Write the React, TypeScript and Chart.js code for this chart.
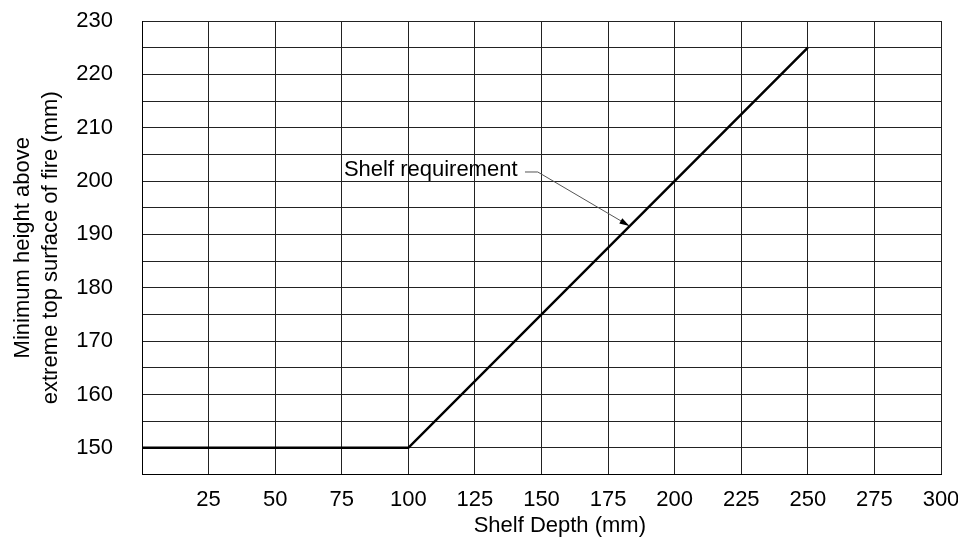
import React, { useEffect, useRef } from "react";
import { Chart, registerables } from "chart.js";

Chart.register(...registerables);

const depths = [0, 100, 250];
const heights = [150, 150, 225];
const xTickLabels = ["", "25", "50", "75", "100", "125", "150", "175", "200", "225", "250", "275", "300"];
const labelText = "Shelf requirement";
const labelAnchor = { x: 75.8, y: 202.1 };
const leaderStart = { x: 143.8, y: 201.7 };
const leaderBend = { x: 148.6, y: 201.7 };
const leaderTip = { x: 183, y: 191.6 };

const FONT = "'Liberation Sans', Arial, sans-serif";

const annotationPlugin = {
  id: "shelfAnnotation",
  afterDatasetsDraw(chart: any) {
    const { ctx, scales } = chart;
    const xs = scales.x;
    const ys = scales.y;
    const px = (v: number) => xs.getPixelForValue(v);
    const py = (v: number) => ys.getPixelForValue(v);
    ctx.save();
    ctx.font = `22px ${FONT}`;
    ctx.fillStyle = "#000";
    ctx.textBaseline = "middle";
    ctx.textAlign = "left";
    ctx.fillText(labelText, px(labelAnchor.x), py(labelAnchor.y));
    const x0 = px(leaderStart.x), y0 = py(leaderStart.y);
    const x1 = px(leaderBend.x), y1 = py(leaderBend.y);
    const x2 = px(leaderTip.x), y2 = py(leaderTip.y);
    ctx.strokeStyle = "#555";
    ctx.lineWidth = 1;
    ctx.beginPath();
    ctx.moveTo(x0, y0);
    ctx.lineTo(x1, y1);
    ctx.lineTo(x2, y2);
    ctx.stroke();
    const ang = Math.atan2(y2 - y1, x2 - x1);
    const len = 10, w = 3;
    ctx.fillStyle = "#000";
    ctx.beginPath();
    ctx.moveTo(x2, y2);
    ctx.lineTo(x2 - len * Math.cos(ang) + w * Math.sin(ang), y2 - len * Math.sin(ang) - w * Math.cos(ang));
    ctx.lineTo(x2 - len * Math.cos(ang) - w * Math.sin(ang), y2 - len * Math.sin(ang) + w * Math.cos(ang));
    ctx.closePath();
    ctx.fill();
    ctx.restore();
  },
};

export default function App() {
  const ref = useRef<HTMLCanvasElement | null>(null);
  useEffect(() => {
    if (!ref.current) return;
    const chart = new Chart(ref.current, {
      type: "line",
      data: {
        datasets: [
          {
            data: depths.map((d, i) => ({ x: d, y: heights[i] })),
            borderColor: "#000",
            borderWidth: 2.5,
            pointRadius: 0,
            tension: 0,
            fill: false,
          },
        ],
      },
      options: {
        animation: false,
        responsive: false,
        maintainAspectRatio: false,
        layout: { padding: { top: 21, right: 17, left: 0, bottom: 0 } },
        plugins: { legend: { display: false }, tooltip: { enabled: false } },
        scales: {
          x: {
            type: "linear",
            min: 0,
            max: 300,
            ticks: {
              stepSize: 25,
              color: "#000",
              font: { family: FONT, size: 22 },
              padding: 12,
              maxRotation: 0,
              autoSkip: false,
              callback: (v: any, i: number) => xTickLabels[i] ?? "",
            },
            grid: { color: "#222", lineWidth: 1, drawTicks: false },
            border: { color: "#000", width: 1 },
            title: {
              display: true,
              text: "      Shelf Depth (mm)",
              color: "#000",
              font: { family: FONT, size: 22 },
              padding: { top: 0, bottom: 0 },
            },
            afterFit: (s: any) => {
              s.height = 64.5;
              s.paddingLeft = 0;
              s.paddingRight = 0;
            },
          },
          y: {
            type: "linear",
            min: 145,
            max: 230,
            ticks: {
              stepSize: 5,
              color: "#000",
              font: { family: FONT, size: 22 },
              padding: 29,
              autoSkip: false,
              callback: (v: any) => (Number(v) % 10 === 0 ? String(v) : ""),
            },
            grid: { color: "#222", lineWidth: 1, drawTicks: false },
            border: { color: "#000", width: 1 },
            title: {
              display: true,
              text: ["Minimum height above", "extreme top surface of fire (mm)"],
              color: "#000",
              font: { family: FONT, size: 22, lineHeight: 1.27 },
              padding: { top: 9, bottom: 0 },
            },
            afterFit: (s: any) => {
              s.width = 142;
              s.paddingTop = 0;
              s.paddingBottom = 0;
            },
          },
        },
      },
      plugins: [annotationPlugin],
    } as any);
    return () => chart.destroy();
  }, []);
  return (
    <div style={{ position: "absolute", left: 0, top: 0, width: 958, height: 539, background: "#fff" }}>
      <canvas ref={ref} width={958} height={539} style={{ width: 958, height: 539 }} />
    </div>
  );
}
